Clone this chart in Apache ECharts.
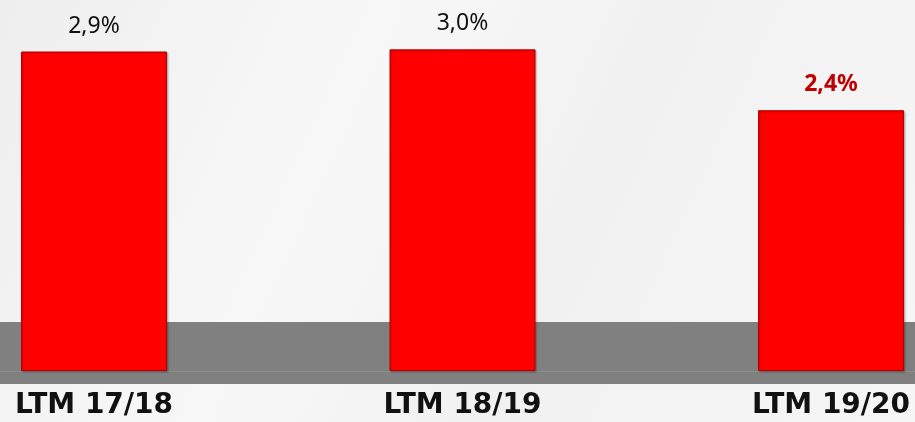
<!DOCTYPE html>
<html>
<head>
<meta charset="utf-8">
<script src="https://cdn.jsdelivr.net/npm/echarts@6/dist/echarts.min.js"></script>
<style>
  html, body { margin: 0; padding: 0; }
  #chart { width: 915px; height: 422px; }
</style>
</head>
<body>
<div id="chart"></div>
<script>
// periods and rates (%)
const categories = ['LTM 17/18', 'LTM 18/19', 'LTM 19/20']
const rates = [2.94, 2.96, 2.4]
const highlightIndex = 2

const myChart = echarts.init(document.getElementById('chart'))

const fmt = v => v.toFixed(1).replace('.', ',') + '%'

const option = {
  backgroundColor: {
    type: 'linear', x: 0, y: 0, x2: 1, y2: 1,
    colorStops: [
      { offset: 0, color: '#eeeeee' },
      { offset: 0.35, color: '#f8f8f8' },
      { offset: 0.6, color: '#f1f1f1' },
      { offset: 1, color: '#f6f6f6' }
    ]
  },
  animation: false,
  grid: {
    left: 94,
    right: 84,
    top: 45,
    height: 326
  },
  graphic: [
    {
      type: 'rect',
      z: -1,
      shape: { x: 0, y: 322, width: 915, height: 62 },
      style: { fill: '#808080' }
    },
    {
      // faint base line under the bars
      type: 'rect',
      z: -1,
      shape: { x: 0, y: 371, width: 915, height: 1 },
      style: { fill: '#8d8d8d' }
    }
  ],
  xAxis: {
    type: 'category',
    data: categories,
    boundaryGap: false,
    axisTick: { show: false },
    axisLine: { show: false },
    axisLabel: {
      margin: 21,
      fontFamily: 'DejaVu Sans',
      fontWeight: 'bold',
      fontSize: 28,
      color: '#111111'
    }
  },
  yAxis: {
    type: 'value',
    min: 0,
    max: 3,
    show: false
  },
  series: [
    {
      type: 'bar',
      barWidth: 146,
      clip: false,
      data: rates.map((v, i) => ({
        value: v,
        label: i === highlightIndex
          ? { fontWeight: 'bold', color: '#c00000' }
          : {}
      })),
      itemStyle: {
        color: '#ff0000',
        borderColor: '#b40000',
        borderWidth: 1,
        shadowColor: 'rgba(0,0,0,0.25)',
        shadowBlur: 2,
        shadowOffsetX: 1,
        shadowOffsetY: 1
      },
      label: {
        show: true,
        position: 'top',
        distance: 14,
        fontFamily: 'Noto Sans',
        fontSize: 23,
        color: '#111111',
        formatter: p => fmt(p.value)
      }
    }
  ]
}

myChart.setOption(option)
</script>
</body>
</html>
